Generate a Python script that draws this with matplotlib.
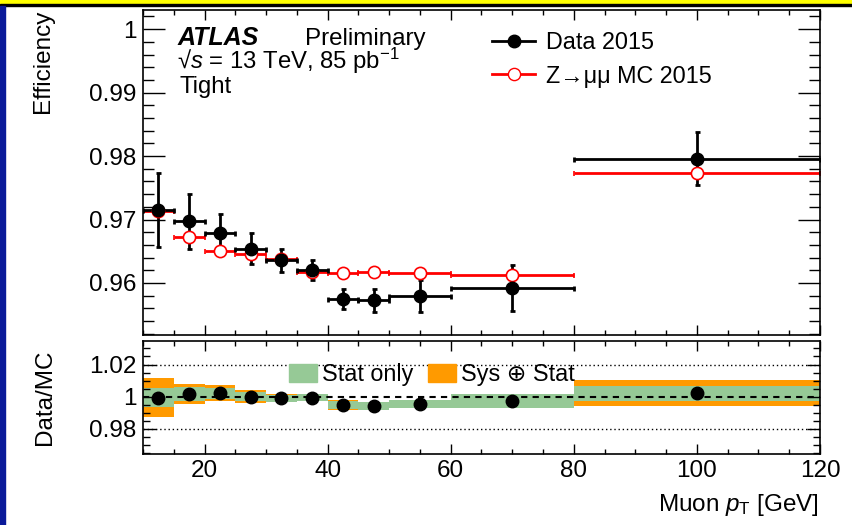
import numpy as np
import matplotlib
matplotlib.use('Agg')
import matplotlib.pyplot as plt
from matplotlib.ticker import MultipleLocator, FuncFormatter
from matplotlib.lines import Line2D
from matplotlib.patches import Patch, Rectangle

# bins in muon pT [GeV]
edges = [10, 15, 20, 25, 30, 35, 40, 45, 50, 60, 80, 120]
centers = [12.5, 17.5, 22.5, 27.5, 32.5, 37.5, 42.5, 47.5, 55, 70, 100]

# efficiencies
data_eff = [0.9715, 0.9697, 0.9679, 0.9654, 0.9636, 0.9620, 0.9575, 0.9573, 0.9580, 0.9592, 0.9796]
data_err = [0.0058, 0.0043, 0.0030, 0.0024, 0.0018, 0.0016, 0.0016, 0.0018, 0.0025, 0.0036, 0.0042]
mc_eff = [0.9713, 0.9673, 0.9650, 0.9646, 0.9637, 0.9618, 0.9615, 0.9618, 0.9616, 0.9613, 0.9773]
mc_err = [0.0002, 0.0001, 0.0001, 0.0001, 0.0001, 0.0001, 0.0001, 0.0001, 0.0001, 0.0001, 0.0002]

# ratio panel
ratio = [0.9995, 1.0017, 1.0021, 1.0000, 0.9990, 0.9994, 0.9948, 0.9942, 0.9955, 0.9973, 1.0021]
stat_err = [0.0062, 0.0042, 0.0033, 0.0027, 0.0020, 0.0020, 0.0027, 0.0023, 0.0024, 0.0042, 0.0045]
tot_err = [0.0123, 0.0062, 0.0050, 0.0042, 0.0025, 0.0023, 0.0029, 0.0025, 0.0026, 0.0045, 0.0080]

plt.rcParams['font.family'] = ['Liberation Sans', 'DejaVu Sans']
plt.rcParams['mathtext.fontset'] = 'custom'
plt.rcParams['mathtext.rm'] = 'Liberation Sans'
plt.rcParams['mathtext.it'] = 'Liberation Sans:italic'
plt.rcParams['font.size'] = 17

GREEN = '#96c996'
ORANGE = '#ff9a00'

fig = plt.figure(figsize=(8.52, 5.25), dpi=100)

# slide decorations: yellow band on top, blue strip on the left
fig.patches.append(Rectangle((0, 1 - 4 / 525), 1, 4 / 525, transform=fig.transFigure,
                             color='#ffff00', zorder=0))
fig.patches.append(Rectangle((0, 1 - 6 / 525), 1, 2 / 525, transform=fig.transFigure,
                             color='black', zorder=0))
fig.patches.append(Rectangle((0, 0), 5 / 852, 1 - 6 / 525, transform=fig.transFigure,
                             color='#0a1a9a', zorder=0))

ax = fig.add_axes([143 / 852, 1 - 335 / 525, 677 / 852, 325.5 / 525])
rax = fig.add_axes([143 / 852, 1 - 454 / 525, 677 / 852, 113 / 525])

centers = np.array(centers)
xw = np.diff(edges) / 2

# efficiency panel
ax.errorbar(centers, mc_eff, xerr=xw, yerr=mc_err, fmt='o', color='red', mfc='white',
            mec='red', ms=8.8, mew=1.2, elinewidth=2, capsize=1.8, capthick=2)
ax.errorbar(centers, data_eff, xerr=xw, yerr=data_err, fmt='o', color='black',
            ms=9, elinewidth=2, capsize=1.8, capthick=2)

ax.set_xlim(10, 120)
ax.set_ylim(0.9518, 1.0031)

h_data = Line2D([], [], color='black', marker='o', ms=9, lw=2)
h_mc = Line2D([], [], color='red', marker='o', mfc='white', mec='red', ms=8.8, lw=2)
ax.legend([h_data, h_mc], ['Data 2015', 'Z→μμ MC 2015'], loc='upper left',
          bbox_to_anchor=(492 / 852, 1 - 31 / 525), bbox_transform=fig.transFigure,
          frameon=False, handlelength=1.85, handletextpad=0.45, labelspacing=0.45,
          borderpad=0, borderaxespad=0, fontsize=16.8)

fig.text(178 / 852, 1 - 45 / 525, 'ATLAS', fontweight='bold', fontstyle='italic',
         va='baseline', ha='left', fontsize=18)
fig.text(305 / 852, 1 - 45 / 525, 'Preliminary', va='baseline', ha='left', fontsize=17.4)
fig.text(177 / 852, 1 - 68.5 / 525, '√$s$ = 13 TeV, 85 pb$^{-1}$', va='baseline',
         ha='left', fontsize=17.2)
fig.text(179 / 852, 1 - 92.5 / 525, 'Tight', va='baseline', ha='left', fontsize=17.2)

# ratio panel
rax.bar(edges[:-1], 2 * np.array(tot_err), width=np.diff(edges),
        bottom=np.array(ratio) - np.array(tot_err), align='edge', color=ORANGE, lw=0)
rax.bar(edges[:-1], 2 * np.array(stat_err), width=np.diff(edges),
        bottom=np.array(ratio) - np.array(stat_err), align='edge', color=GREEN, lw=0)
rax.axhline(1.02, color='black', lw=1, ls=(0, (1, 2)))
rax.axhline(0.98, color='black', lw=1, ls=(0, (1, 2)))
rax.axhline(1.0, color='black', lw=1.5, ls=(0, (3, 2.5)))
rax.plot(centers, ratio, 'o', color='black', ms=9)

rax.set_xlim(10, 120)
rax.set_ylim(0.9644, 1.0346)

rax.legend([Patch(color=GREEN), Patch(color=ORANGE)], ['Stat only', 'Sys ⊕ Stat'],
           loc='upper left', ncol=2, bbox_to_anchor=(289 / 852, 1 - 363 / 525),
           bbox_transform=fig.transFigure, frameon=False, handlelength=1.2,
           handleheight=0.85, handletextpad=0.2, columnspacing=0.65,
           borderpad=0, borderaxespad=0, fontsize=16.8)

# axes styling (ROOT-like ticks on all sides)
fmt = FuncFormatter(lambda v, p: '%g' % round(v, 4))
for a in (ax, rax):
    for s in a.spines.values():
        s.set_linewidth(1.2)
    a.xaxis.set_major_locator(MultipleLocator(20))
    a.xaxis.set_minor_locator(MultipleLocator(5))
    a.yaxis.set_major_formatter(fmt)
    a.tick_params(which='both', direction='in', top=True, right=True, width=1,
                  labelsize=17.5, pad=4.5)

ax.yaxis.set_major_locator(MultipleLocator(0.01))
ax.yaxis.set_minor_locator(MultipleLocator(0.002))
ax.tick_params(axis='y', which='major', length=16)
ax.tick_params(axis='y', which='minor', length=8)
ax.tick_params(axis='x', which='major', length=7, labelbottom=False)
ax.tick_params(axis='x', which='minor', length=3.5)

rax.yaxis.set_major_locator(MultipleLocator(0.02))
rax.yaxis.set_minor_locator(MultipleLocator(0.005))
rax.tick_params(axis='y', which='major', length=9.5)
rax.tick_params(axis='y', which='minor', length=5)
rax.tick_params(axis='x', which='major', length=7)
rax.tick_params(axis='x', which='minor', length=3.5)

fig.text(43 / 852, 1 - 10 / 525, 'Efficiency', rotation=90, ha='center', va='top',
         fontsize=17.5)
fig.text(45 / 852, 1 - 397.5 / 525, 'Data/MC', rotation=90, ha='center', va='center',
         fontsize=17.5)
fig.text(819 / 852, 1 - 505 / 525, 'Muon $p_{\\mathrm{T}}$ [GeV]', ha='right', va='center',
         fontsize=17.5)

fig.savefig('out.png', dpi=100)
